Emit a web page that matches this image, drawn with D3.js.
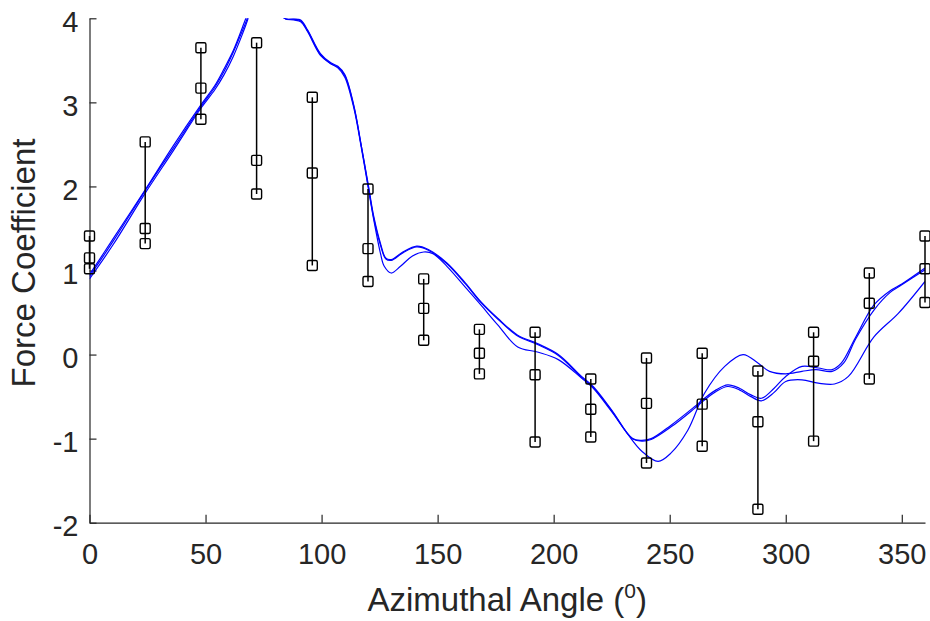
<!DOCTYPE html>
<meta charset="utf-8">
<script src="https://d3js.org/d3.v7.min.js"></script>

<style>
  body { margin: 0; background: #fff; }
  text { font-family: "Liberation Sans", Arial, sans-serif; }
</style>

<div id="my_dataviz"></div>

<script>

  // measured points, every 24 degrees: top / middle / bottom value
  const angles   = [0, 24, 48, 72, 96, 120, 144, 168, 192, 216, 240, 264, 288, 312, 336, 360];
  const measTop  = [1.41, 2.53, 3.65, 3.71, 3.06, 1.97, 0.90, 0.30, 0.265, -0.29, -0.04, 0.015, -0.195, 0.265, 0.97, 1.41];
  const measMid  = [1.15, 1.50, 3.17, 2.31, 2.16, 1.26, 0.55, 0.015, -0.24, -0.65, -0.58, -0.59, -0.80, -0.08, 0.61, 1.02];
  const measLow  = [1.02, 1.32, 2.80, 1.91, 1.06, 0.87, 0.17, -0.23, -1.04, -0.98, -1.29, -1.09, -1.84, -1.03, -0.29, 0.62];

  // simulated curves (angle, value)
  const simA = [[0,0.95],[10,1.37],[24,1.96],[36,2.48],[48,2.97],[54,3.2],[58,3.4],[62,3.62],[66,3.9],[68,4.05],
    [72,4.4],[76,4.5],[80,4.3],[84,4.0],[88,3.99],[91,3.98],[94,3.86],[99.5,3.58],[104,3.47],[107,3.43],[110,3.33],
    [114,2.95],[117,2.5],[120,2.04],[122.5,1.64],[125.4,1.32],[127.6,1.15],[130,1.13],[135,1.22],[141,1.29],[146,1.25],
    [154,1.09],[162,0.85],[168.6,0.63],[176,0.43],[184.5,0.23],[193,0.13],[202,0.0],[212,-0.26],[217,-0.38],[225,-0.66],
    [234,-1.0],[238,-1.02],[242,-1.0],[250.6,-0.84],[260.7,-0.62],[265,-0.52],[270,-0.42],[275,-0.36],[280,-0.4],
    [285,-0.48],[289.5,-0.52],[295,-0.4],[300,-0.26],[307,-0.14],[314,-0.16],[320,-0.18],[324,-0.1],[330,0.2],
    [338,0.59],[345,0.76],[350,0.84],[360,1.03]];

  const simB = [[0,0.9],[10,1.3],[24,1.92],[36,2.42],[48,2.93],[54,3.15],[58,3.33],[62,3.55],[66,3.82],[68,3.97],
    [72,4.35],[76,4.5],[80,4.3],[84,4.0],[88,3.98],[91,3.96],[94,3.84],[99.5,3.56],[104,3.46],[107,3.41],[110,3.3],
    [114,2.92],[117,2.48],[120,2.0],[122.5,1.6],[125.4,1.2],[127,1.05],[130,0.97],[134,1.05],[139,1.17],[144,1.22],
    [148,1.2],[154,1.05],[162,0.8],[168.6,0.59],[176,0.35],[184.5,0.09],[193,0.03],[202,-0.06],[212,-0.28],[217,-0.4],
    [225,-0.68],[234,-1.0],[238,-1.03],[242,-1.01],[250.6,-0.86],[260.7,-0.64],[265,-0.54],[270,-0.44],[275,-0.38],
    [280,-0.42],[285,-0.5],[289.5,-0.55],[295,-0.45],[300,-0.32],[307,-0.3],[314,-0.34],[321,-0.35],[327,-0.26],
    [338,0.21],[348.5,0.49],[360,0.87]];

  const simC = [[0,0.93],[10,1.34],[24,1.95],[36,2.45],[48,2.95],[54,3.18],[58,3.37],[62,3.6],[66,3.86],[68,4.0],
    [72,4.4],[76,4.5],[80,4.3],[84,4.0],[88,3.99],[91,3.97],[94,3.85],[99.5,3.57],[104,3.46],[107,3.42],[110,3.32],
    [114,2.94],[117,2.5],[120,2.02],[122.5,1.62],[125.4,1.3],[127.6,1.14],[130,1.12],[135,1.21],[141,1.28],[146,1.24],
    [154,1.08],[162,0.84],[168.6,0.62],[176,0.42],[184.5,0.22],[193,0.12],[202,-0.01],[212,-0.27],[217,-0.39],
    [225,-0.67],[232,-0.95],[238,-1.15],[245,-1.27],[250.6,-1.17],[257.8,-0.9],[265,-0.46],[273.7,-0.14],[281.6,0.0],
    [288,-0.1],[293,-0.2],[300,-0.23],[307,-0.2],[313,-0.18],[320,-0.2],[325,-0.1],[330,0.18],[338,0.53],[345,0.74],
    [350,0.83],[360,1.01]];

  const xTicks = [0, 50, 100, 150, 200, 250, 300, 350];
  const yTicks = [-2, -1, 0, 1, 2, 3, 4];

  var svgWidth = 930, svgHeight = 621;
  const axisColor = "#262626";

  const x = d3.scaleLinear().domain([0, 360]).range([89.5, 925]);
  const y = d3.scaleLinear().domain([-2, 4]).range([522.7, 18.3]);

  const svg = d3.select("#my_dataviz")
    .append("svg")
    .attr("width", svgWidth)
    .attr("height", svgHeight);

  // clip the curves to the plot box (they run above 4)
  svg.append("clipPath")
    .attr("id", "plotClip")
    .append("rect")
    .attr("x", x(0))
    .attr("y", y(4))
    .attr("width", x(360) - x(0))
    .attr("height", y(-2) - y(4));

  // axes, ticks pointing inward
  const xAxis = svg.append("g")
    .attr("transform", `translate(0,${y(-2)})`)
    .call(d3.axisBottom(x).tickValues(xTicks).tickSizeInner(-8).tickSizeOuter(0)
      .tickPadding(21).tickFormat(d => String(d)));

  const yAxis = svg.append("g")
    .attr("transform", `translate(${x(0)},0)`)
    .call(d3.axisLeft(y).tickValues(yTicks).tickSizeInner(-7).tickSizeOuter(0)
      .tickPadding(11).tickFormat(d => String(d)));

  [xAxis, yAxis].forEach(function (g) {
    g.select(".domain").attr("stroke", axisColor).attr("stroke-width", 1.2);
    g.selectAll(".tick line").attr("stroke", axisColor).attr("stroke-width", 1.2);
    g.selectAll(".tick text")
      .attr("fill", axisColor)
      .style("font-size", "29px")
      .style("font-family", '"Liberation Sans", Arial, sans-serif');
  });
  yAxis.selectAll(".tick text").attr("dy", "0.45em");

  // simulated curves
  const line = d3.line()
    .x(d => x(d[0]))
    .y(d => y(d[1]))
    .curve(d3.curveCatmullRom.alpha(0.5));

  svg.append("g")
    .attr("clip-path", "url(#plotClip)")
    .selectAll("path")
    .data([simA, simB, simC])
    .join("path")
    .attr("d", line)
    .attr("fill", "none")
    .attr("stroke", "#0000ff")
    .attr("stroke-width", 1.2);

  // measured range bars
  const meas = angles.map((a, i) => ({ angle: a, vals: [measTop[i], measMid[i], measLow[i]] }));

  const bars = svg.append("g");
  bars.selectAll("line")
    .data(meas)
    .join("line")
    .attr("x1", d => x(d.angle))
    .attr("x2", d => x(d.angle))
    .attr("y1", d => y(d3.max(d.vals)))
    .attr("y2", d => y(d3.min(d.vals)))
    .attr("stroke", "#000")
    .attr("stroke-width", 1.5);

  const pts = meas.flatMap(d => d.vals.map(v => ({ angle: d.angle, v: v })));
  const sq = 10;
  bars.selectAll("rect")
    .data(pts)
    .join("rect")
    .attr("x", d => x(d.angle) - sq / 2)
    .attr("y", d => y(d.v) - sq / 2)
    .attr("width", sq)
    .attr("height", sq)
    .attr("rx", 1.5)
    .attr("fill", "none")
    .attr("stroke", "#000")
    .attr("stroke-width", 1.4);

  // axis labels
  const xLabel = svg.append("text")
    .attr("x", (x(0) + x(360)) / 2)
    .attr("y", 610.7)
    .attr("text-anchor", "middle")
    .attr("fill", axisColor)
    .style("font-size", "33px");
  xLabel.append("tspan").text("Azimuthal Angle (");
  xLabel.append("tspan").text("0").style("font-size", "21px").attr("dy", -13);
  xLabel.append("tspan").text(")").attr("dy", 13);

  svg.append("text")
    .attr("transform", "translate(35,263) rotate(-90)")
    .attr("text-anchor", "middle")
    .attr("fill", axisColor)
    .style("font-size", "33px")
    .text("Force Coefficient");

</script>
